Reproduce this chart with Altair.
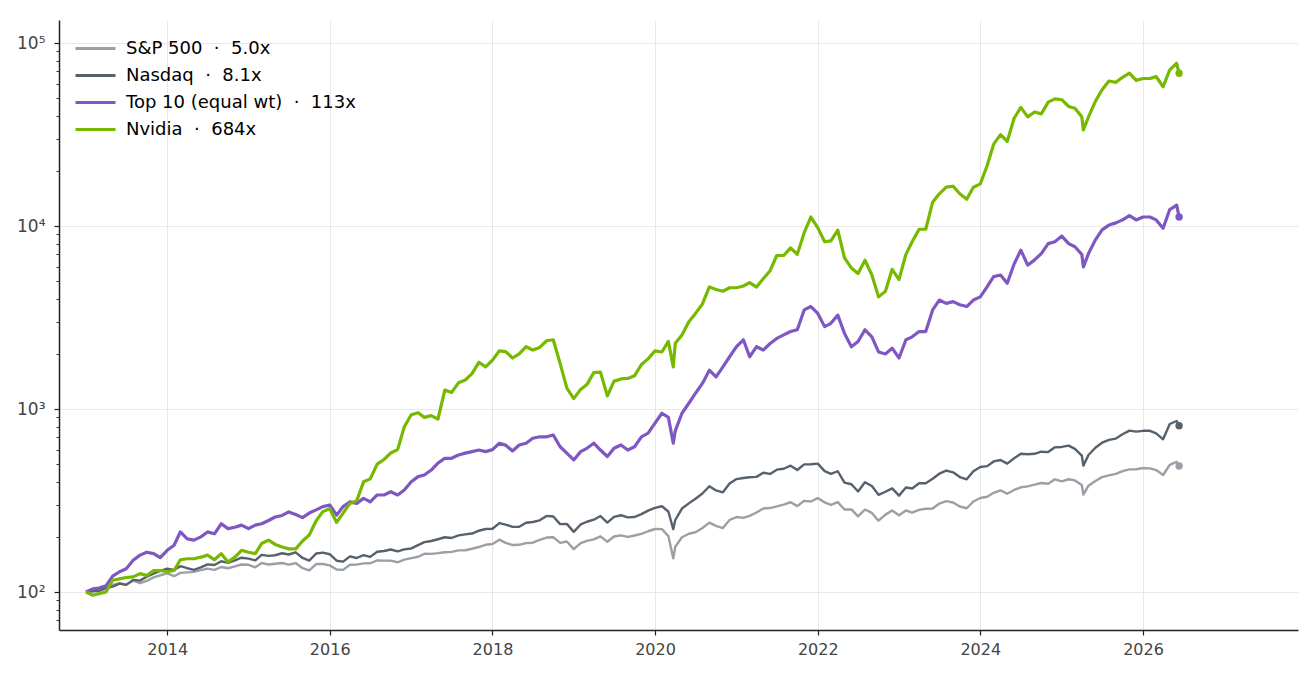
import altair as alt
import pandas as pd

labels = [
    "S&P 500\u00a0\u00a0·\u00a0\u00a05.0x",
    "Nasdaq\u00a0\u00a0·\u00a0\u00a08.1x",
    "Top 10 (equal wt)\u00a0\u00a0·\u00a0\u00a0113x",
    "Nvidia\u00a0\u00a0·\u00a0\u00a0684x",
]
colors = ["#9c9fa6", "#56616c", "#7e57c2", "#76b900"]

# month starts 2013-01 .. 2026-06, plus a few extra days (covid low, april 2025 low, last day)
months = pd.date_range("2013-01-01", "2026-06-01", freq="MS")
extra_days = pd.to_datetime(["2020-03-23", "2025-04-08", "2026-06-12"])
dates = months.append(extra_days).sort_values()

# index values, start = 100 (one line per year)
sp500 = [
    100, 102.5, 103.6, 107.3, 109.3, 111.6, 109.8, 115.3, 111.7, 115.0, 120.2, 123.5,
    126.4, 122.0, 127.2, 128.0, 128.9, 131.6, 134.1, 132.1, 137.0, 134.9, 138.0, 141.4,
    140.8, 136.5, 144.0, 141.4, 142.7, 144.1, 141.1, 143.9, 134.9, 131.3, 142.2, 142.3,
    139.8, 132.7, 132.1, 140.9, 141.2, 143.4, 143.6, 148.7, 148.5, 148.3, 145.4, 150.4,
    153.1, 155.9, 161.7, 161.6, 163.1, 165.0, 165.7, 168.9, 169.1, 172.3, 176.1, 181.1,
    182.9, 193.2, 185.6, 180.6, 181.1, 185.0, 185.9, 192.6, 198.5, 199.3, 185.5, 188.8,
    171.5, 185.0, 190.4, 193.8, 201.5, 188.2, 201.2, 203.8, 200.1, 203.6, 207.8, 214.8,
    221.0, 220.7, 202.1, 153.0, 176.8, 199.2, 208.2, 212.0, 223.7, 239.4, 230.0, 223.7, 247.7,
    256.9, 254.0, 260.7, 271.8, 286.0, 287.6, 294.0, 300.6, 309.4, 294.7, 315.0, 312.4,
    326.0, 308.9, 299.2, 309.8, 282.6, 282.6, 258.9, 282.5, 270.5, 245.3, 264.8, 279.1,
    262.7, 278.9, 271.5, 281.1, 285.2, 285.9, 304.4, 313.9, 308.3, 293.3, 286.9, 312.4,
    326.3, 331.5, 348.6, 359.4, 344.5, 361.0, 373.5, 377.7, 386.3, 394.1, 390.2, 412.6,
    402.3, 413.2, 407.3, 383.9, 340.8, 381.0, 404.4, 424.4, 433.6, 441.9, 457.5, 467.9, 468.5,
    476, 474, 464, 436, 495, 515, 488,
]
nasdaq = [
    100, 101.0, 101.5, 105.0, 107.0, 111.1, 109.4, 116.5, 115.4, 121.2, 126.0, 130.5,
    134.2, 131.9, 138.4, 134.9, 132.2, 136.3, 141.6, 140.4, 147.2, 144.4, 148.8, 154.0,
    152.2, 148.9, 159.5, 157.5, 158.8, 162.9, 160.3, 164.8, 153.5, 148.5, 162.4, 164.2,
    160.9, 148.3, 146.5, 156.5, 153.4, 159.0, 155.6, 165.9, 167.5, 170.7, 166.7, 171.1,
    173.0, 180.4, 187.2, 190.0, 194.3, 199.2, 197.3, 204.0, 206.6, 208.7, 216.2, 220.9,
    221.8, 238.1, 233.7, 227.0, 227.1, 239.1, 241.3, 246.5, 260.6, 258.5, 234.8, 235.6,
    213.2, 234.0, 242.1, 248.4, 260.1, 239.5, 257.3, 262.7, 255.9, 257.0, 266.5, 278.4,
    288.3, 294.1, 275.3, 220.4, 247.4, 285.7, 305.0, 323.2, 345.3, 378.4, 358.9, 350.6, 392.0,
    414.1, 420.0, 423.9, 425.7, 448.7, 441.8, 466.1, 471.5, 490.3, 464.3, 498.0, 499.3,
    502.7, 457.6, 441.9, 457.0, 396.4, 388.2, 354.4, 398.2, 379.7, 339.8, 353.1, 368.5,
    336.3, 372.3, 368.1, 392.7, 392.9, 415.7, 443.1, 461.0, 451.0, 424.8, 413.0, 457.1,
    482.4, 487.3, 517.1, 526.3, 503.1, 537.8, 569.8, 565.5, 569.2, 584.5, 581.5, 617.5,
    620.5, 630.7, 605.6, 555.9, 490.6, 560.6, 614.2, 654.6, 678.7, 689.5, 728.1, 761.6, 752,
    760, 760, 736, 683, 828, 860, 810,
]
top10 = [
    100, 104, 105, 108, 122, 129, 134, 149, 159, 165, 162, 154,
    169, 180, 213, 195, 192, 200, 213, 208, 236, 222, 226, 232,
    222, 232, 236, 246, 257, 262, 274, 265, 255, 270, 281, 293,
    299, 263, 293, 311, 305, 325, 311, 339, 339, 353, 339, 361,
    400, 427, 436, 464, 506, 538, 538, 561, 574, 585, 597, 585,
    600, 650, 635, 590, 636, 650, 692, 705, 705, 721, 622, 574,
    527, 585, 610, 650, 597, 550, 610, 636, 597, 622, 705, 738,
    837, 948, 900, 650, 760, 948, 1075, 1220, 1380, 1630, 1500, 1700, 1930,
    2190, 2390, 1930, 2190, 2100, 2280, 2430, 2540, 2650, 2710, 3480, 3630,
    3330, 2820, 2940, 3260, 2590, 2190, 2340, 2710, 2480, 2050, 2000, 2150,
    1900, 2390, 2480, 2650, 2650, 3480, 3940, 3780, 3860, 3710, 3630, 3940,
    4100, 4660, 5290, 5400, 4870, 6200, 7380, 6110, 6530, 7070, 8010, 8200,
    8810, 8010, 7700, 7000, 5980, 7070, 8400, 9520, 10120, 10400, 10800, 11400, 10800,
    11200, 11200, 10800, 9720, 12300, 13000, 11200,
]
nvidia = [
    100, 96, 98, 100, 116, 118, 120, 121, 126, 123, 131, 131,
    129, 131, 150, 152, 152, 155, 159, 150, 162, 146, 155, 169,
    165, 162, 184, 192, 182, 176, 172, 172, 190, 205, 245, 275,
    285, 240, 270, 305, 315, 400, 415, 500, 530, 575, 600, 800,
    930, 955, 900, 920, 880, 1270, 1230, 1390, 1440, 1560, 1800, 1700,
    1850, 2080, 2060, 1900, 2000, 2190, 2100, 2170, 2360, 2390, 1770, 1300,
    1140, 1280, 1360, 1580, 1590, 1180, 1420, 1460, 1470, 1520, 1750, 1880,
    2080, 2050, 2340, 1700, 2290, 2540, 3000, 3330, 3750, 4650, 4500, 4400, 4600,
    4600, 4700, 4900, 4640, 5150, 5700, 6900, 6900, 7600, 7000, 9200, 11200,
    9800, 8200, 8300, 9500, 6700, 5900, 5500, 6500, 5400, 4100, 4400, 5800,
    5100, 7000, 8200, 9600, 9600, 13500, 15000, 16300, 16500, 15000, 14000, 16300,
    17000, 21400, 28000, 31600, 29000, 38800, 44500, 39500, 42000, 41000, 47500, 49500,
    49000, 45000, 44000, 39500, 33500, 39500, 48000, 55500, 62000, 61000, 65000, 68500, 62500,
    64000, 64000, 65500, 57700, 71300, 77500, 68400,
]

y_major = [100, 1000, 10000, 100000]
y_minor = [70, 80, 90] + [m * 10 ** e for e in (2, 3, 4) for m in range(2, 10)]
x_years = list(range(2014, 2027, 2))

rows = []
for name, vals in zip(labels, [sp500, nasdaq, top10, nvidia]):
    for d, v in zip(dates, vals):
        rows.append({"date": d, "series": name, "value": v})
df = pd.DataFrame(rows)
last = df[df["date"] == dates[-1]]

is_major = "datum.value == 100 || datum.value == 1000 || datum.value == 10000 || datum.value == 100000"

yscale = alt.Scale(type="log", domain=[62, 133600], nice=False)
xscale = alt.Scale(domain=[alt.DateTime(year=2012, month=9, date=2),
                           alt.DateTime(year=2027, month=11, date=28)], nice=False)
cscale = alt.Scale(domain=labels, range=colors)

x_enc = alt.X("date:T", scale=xscale, title=None,
              axis=alt.Axis(values=[alt.DateTime(year=y, month=1, date=1) for y in x_years],
                            format="%Y", labelFontSize=16, labelPadding=6, tickSize=5))
y_enc = alt.Y("value:Q", scale=yscale, title=None,
              axis=alt.Axis(values=y_major + y_minor, labelFontSize=17, labelPadding=9,
                            labelExpr="datum.value == 100 ? '10²' : datum.value == 1000 ? '10³' : "
                                      "datum.value == 10000 ? '10⁴' : datum.value == 100000 ? '10⁵' : ''",
                            tickSize={"condition": {"test": is_major, "value": 5}, "value": 3},
                            tickWidth={"condition": {"test": is_major, "value": 1.2}, "value": 0.9},
                            gridOpacity={"condition": {"test": is_major, "value": 1}, "value": 0}))

legend = alt.Legend(title=None, orient="none", legendX=25, legendY=17,
                    symbolType="M-2,0H2", symbolSize=400, symbolStrokeWidth=3,
                    labelFont="DejaVu Sans", labelFontSize=18, labelColor="#000000",
                    labelOffset=19, labelLimit=500, rowPadding=6, padding=0)

base = alt.Chart(df).encode(
    x=x_enc,
    y=y_enc,
    color=alt.Color("series:N", scale=cscale, sort=labels, legend=legend),
)
thin = base.mark_line(strokeWidth=2.4, strokeJoin="round").transform_filter(
    alt.FieldOneOfPredicate(field="series", oneOf=labels[:2])
)
thick = base.mark_line(strokeWidth=3.2, strokeJoin="round").transform_filter(
    alt.FieldOneOfPredicate(field="series", oneOf=labels[2:])
)

dots = alt.Chart(last).mark_circle(size=55, opacity=1).encode(
    x=alt.X("date:T", scale=xscale),
    y=alt.Y("value:Q", scale=yscale),
    color=alt.Color("series:N", scale=cscale, legend=None),
)

chart = alt.layer(thin, thick, dots).properties(
    width=1239,
    height=610,
    autosize=alt.AutoSizeParams(type="none"),
    padding={"left": 51, "top": 12, "right": 6, "bottom": 38},
).configure_view(
    stroke=None
).configure_axis(
    labelFont="DejaVu Sans",
    labelColor="#444444",
    domainColor="#222222",
    domainWidth=1.5,
    tickColor="#222222",
    tickWidth=1.2,
    gridColor="#e8e8e8",
    gridWidth=1,
)

chart.save("out.html", embed_options={"renderer": "svg", "actions": False})
